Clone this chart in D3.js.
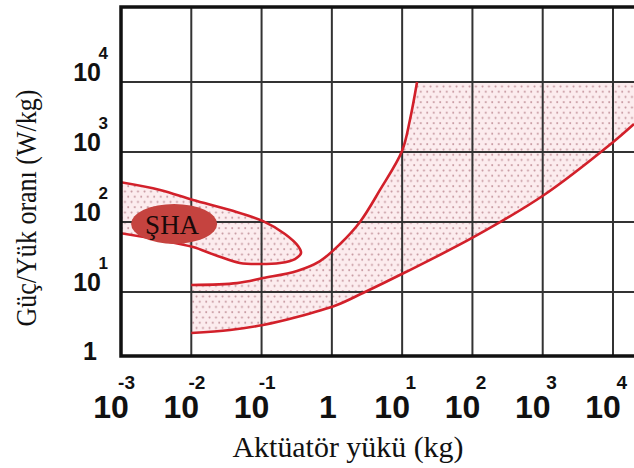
<!DOCTYPE html>
<html>
<head>
<meta charset="utf-8">
<script src="https://cdn.jsdelivr.net/npm/d3@7"></script>
<style>
  html, body { margin: 0; padding: 0; background: #fff; }
</style>
</head>
<body>
<div id="chart"></div>
<script>
// decade exponents on each axis
const xExponents = [-3, -2, -1, 0, 1, 2, 3, 4];
const yExponents = [0, 1, 2, 3, 4];

// ŞHA loop: upper edge (left -> tip) and lower edge (tip -> left), [kg, W/kg]
const shaTop = [[0.00095, 373], [0.0036, 287], [0.0106, 206], [0.0356, 148], [0.105, 103], [0.215, 67.4], [0.33, 45.4], [0.364, 36.1]];
const shaBottom = [[0.299, 29.6], [0.183, 26], [0.095, 25.1], [0.049, 26], [0.0217, 33.8], [0.0106, 43.9], [0.0036, 55.3], [0.00095, 69.6]];

// other actuators: left/upper edge and lower/right edge
const bigUpper = [[0.01, 12.6], [0.0447, 13.4], [0.105, 15.8], [0.319, 20], [0.678, 27.7], [1.31, 48.5], [2.51, 100], [4.84, 287], [9.96, 1033], [12.9, 2865], [16.3, 10000]];
const bigLower = [[0.01, 2.6], [0.0356, 2.87], [0.105, 3.38], [0.319, 4.39], [1.18, 6.52], [2.77, 9.68], [11.3, 19.3], [105, 61.1], [1042, 243], [9680, 1345], [19900, 2512]];
const bigCeiling = 10000;

const shaLabel = { text: "ŞHA", x: 0.0057, y: 94 };
const xTitle = "Aktüatör yükü (kg)";
const yTitle = "Güç/Yük oranı (W/kg)";

const width = 634, height = 468;
const plotLeft = 121, plotRight = 634, plotTop = 7, plotBottom = 356;

const x = d3.scaleLog().domain([1e-3, 1e4]).range([121, 613]);
const y = d3.scaleLog().domain([1, 1e4]).range([362, 82]);

const svg = d3.select("#chart")
  .append("svg")
  .attr("width", width)
  .attr("height", height);

const defs = svg.append("defs");

const pat = defs.append("pattern")
  .attr("id", "dots")
  .attr("patternUnits", "userSpaceOnUse")
  .attr("width", 6.5)
  .attr("height", 10.5);
pat.append("rect").attr("width", 6.5).attr("height", 10.5).attr("fill", "#fcecee");
pat.append("circle").attr("cx", 1.5).attr("cy", 2.5).attr("r", 1).attr("fill", "#c4959d");
pat.append("circle").attr("cx", 4.75).attr("cy", 7.75).attr("r", 1).attr("fill", "#c4959d");

defs.append("clipPath")
  .attr("id", "plotclip")
  .append("rect")
  .attr("x", plotLeft)
  .attr("y", plotTop)
  .attr("width", plotRight - plotLeft)
  .attr("height", plotBottom - plotTop);

const line = d3.line()
  .x(d => x(d[0]))
  .y(d => y(d[1]))
  .curve(d3.curveCatmullRom.alpha(0.5));

const plot = svg.append("g").attr("clip-path", "url(#plotclip)");

// fills
const shaPts = shaTop.concat(shaBottom);
plot.append("path")
  .attr("d", line(shaPts) + "Z")
  .attr("fill", "url(#dots)");

const xEnd = x.invert(plotRight + 4);
const bigFill = line(bigUpper)
  + "L" + x(xEnd) + "," + y(bigCeiling)
  + line(bigLower.slice().reverse()).replace(/^M/, "L")
  + "Z";
plot.append("path")
  .attr("d", bigFill)
  .attr("fill", "url(#dots)");

// grid
plot.append("g")
  .selectAll("line")
  .data(xExponents.filter(e => e > -3))
  .enter()
  .append("line")
  .attr("x1", e => x(Math.pow(10, e)))
  .attr("x2", e => x(Math.pow(10, e)))
  .attr("y1", plotTop)
  .attr("y2", plotBottom)
  .attr("stroke", "#333")
  .attr("stroke-width", 2);

plot.append("g")
  .selectAll("line")
  .data(yExponents.filter(e => e > 0))
  .enter()
  .append("line")
  .attr("x1", plotLeft)
  .attr("x2", plotRight)
  .attr("y1", e => y(Math.pow(10, e)))
  .attr("y2", e => y(Math.pow(10, e)))
  .attr("stroke", "#333")
  .attr("stroke-width", 2);

// red outlines
[shaPts, bigUpper, bigLower].forEach(pts => {
  plot.append("path")
    .attr("d", line(pts))
    .attr("fill", "none")
    .attr("stroke", "#d2202a")
    .attr("stroke-width", 2.6);
});

// frame: top, left, bottom
svg.append("path")
  .attr("d", `M${plotRight},${plotTop}H${plotLeft}V${plotBottom}H${plotRight}`)
  .attr("fill", "none")
  .attr("stroke", "#111")
  .attr("stroke-width", 3.5);

// ŞHA badge
svg.append("ellipse")
  .attr("cx", x(shaLabel.x))
  .attr("cy", y(shaLabel.y))
  .attr("rx", 43)
  .attr("ry", 20)
  .attr("fill", "#c5433f");
svg.append("text")
  .attr("x", x(shaLabel.x) - 2)
  .attr("y", y(shaLabel.y) + 10)
  .attr("text-anchor", "middle")
  .style("font-family", "'Liberation Serif', 'Times New Roman', serif")
  .style("font-size", "27px")
  .style("fill", "#1a0a0a")
  .text(shaLabel.text);

const tickFont = "'Liberation Sans', Arial, Helvetica, sans-serif";

// x tick labels
const xt = svg.append("g")
  .selectAll("g")
  .data(xExponents)
  .enter()
  .append("g")
  .attr("transform", e => `translate(${x(Math.pow(10, e))},0)`);

xt.append("text")
  .attr("x", e => e === 0 ? -4 : -10)
  .attr("y", 418)
  .attr("text-anchor", "middle")
  .style("font-family", tickFont)
  .style("font-size", "32px")
  .style("font-weight", "bold")
  .style("fill", "#111")
  .text(e => e === 0 ? "1" : "10");

xt.filter(e => e !== 0)
  .append("text")
  .attr("x", 14)
  .attr("y", 389)
  .attr("text-anchor", "end")
  .style("font-family", tickFont)
  .style("font-size", "19px")
  .style("font-weight", "bold")
  .style("fill", "#111")
  .text(e => e);

// y tick labels
const yt = svg.append("g")
  .selectAll("g")
  .data(yExponents)
  .enter()
  .append("g")
  .attr("transform", e => `translate(0,${y(Math.pow(10, e))})`);

yt.append("text")
  .attr("x", e => e === 0 ? 97 : 101)
  .attr("y", e => e === 0 ? -2 : -1)
  .attr("text-anchor", "end")
  .style("font-family", tickFont)
  .style("font-size", "25px")
  .style("font-weight", "bold")
  .style("fill", "#111")
  .text(e => e === 0 ? "1" : "10");

yt.filter(e => e !== 0)
  .append("text")
  .attr("x", 108)
  .attr("y", -23)
  .attr("text-anchor", "end")
  .style("font-family", tickFont)
  .style("font-size", "17px")
  .style("font-weight", "bold")
  .style("fill", "#111")
  .text(e => e);

// axis titles
svg.append("text")
  .attr("x", 348)
  .attr("y", 457)
  .attr("text-anchor", "middle")
  .attr("textLength", 231)
  .attr("lengthAdjust", "spacingAndGlyphs")
  .style("font-family", "'Liberation Serif', 'Times New Roman', serif")
  .style("font-size", "29px")
  .style("fill", "#111")
  .text(xTitle);

svg.append("text")
  .attr("transform", "translate(36,208) rotate(-90)")
  .attr("text-anchor", "middle")
  .attr("textLength", 237)
  .attr("lengthAdjust", "spacingAndGlyphs")
  .style("font-family", "'Liberation Serif', 'Times New Roman', serif")
  .style("font-size", "29px")
  .style("fill", "#111")
  .text(yTitle);
</script>
</body>
</html>
